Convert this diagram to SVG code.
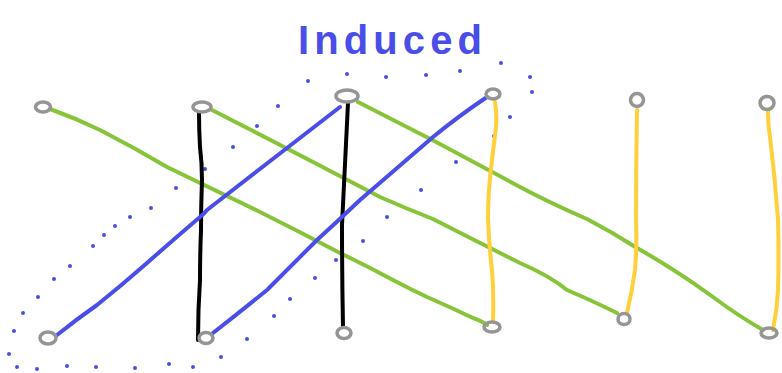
<svg xmlns="http://www.w3.org/2000/svg" width="782" height="373" viewBox="0 0 782 373">
<style>
.node{fill:none;stroke:#959595;stroke-width:3.5}
.edge{fill:none;stroke-width:4;stroke-linecap:round;stroke-linejoin:round}
.g{stroke:#88c43a}
.k{stroke:#000}
.b{stroke:#4a4de8}
.y{stroke:#fdd03c}
.dot{fill:#4a4de8}
.title{font-family:"Liberation Sans",Arial,sans-serif;font-size:40px;font-weight:bold;fill:#4a4de8}
</style>
<rect width="782" height="373" fill="#fff"/>
<text class="title" x="298" y="54" textLength="184" lengthAdjust="spacing">Induced</text>
<g id="selection">
<circle class="dot" cx="9" cy="354" r="2"/><circle class="dot" cx="14" cy="331" r="2"/><circle class="dot" cx="23" cy="313" r="2"/><circle class="dot" cx="38" cy="297" r="2"/><circle class="dot" cx="54" cy="279" r="2"/><circle class="dot" cx="70" cy="266" r="2"/><circle class="dot" cx="93" cy="246" r="2"/><circle class="dot" cx="104" cy="235" r="2"/><circle class="dot" cx="115" cy="226" r="2"/><circle class="dot" cx="130" cy="217" r="2"/><circle class="dot" cx="151" cy="208" r="2"/><circle class="dot" cx="176" cy="188" r="2"/><circle class="dot" cx="205" cy="169" r="2"/><circle class="dot" cx="233" cy="147" r="2"/><circle class="dot" cx="257" cy="126" r="2"/><circle class="dot" cx="278" cy="106" r="2"/><circle class="dot" cx="308" cy="81" r="2"/><circle class="dot" cx="347" cy="74" r="2"/><circle class="dot" cx="386" cy="77" r="2"/><circle class="dot" cx="426" cy="75" r="2"/><circle class="dot" cx="460" cy="71" r="2"/><circle class="dot" cx="501" cy="63" r="2"/><circle class="dot" cx="530" cy="77" r="2"/><circle class="dot" cx="532" cy="92" r="2"/><circle class="dot" cx="510" cy="117" r="2"/><circle class="dot" cx="494" cy="136" r="2"/><circle class="dot" cx="456" cy="162" r="2"/><circle class="dot" cx="421" cy="190" r="2"/><circle class="dot" cx="387" cy="217" r="2"/><circle class="dot" cx="363" cy="241" r="2"/><circle class="dot" cx="336" cy="260" r="2"/><circle class="dot" cx="315" cy="278" r="2"/><circle class="dot" cx="290" cy="299" r="2"/><circle class="dot" cx="274" cy="316" r="2"/><circle class="dot" cx="247" cy="339" r="2"/><circle class="dot" cx="221" cy="357" r="2"/><circle class="dot" cx="193" cy="367" r="2"/><circle class="dot" cx="169" cy="364" r="2"/><circle class="dot" cx="135" cy="368" r="2"/><circle class="dot" cx="96" cy="367" r="2"/><circle class="dot" cx="67" cy="366" r="2"/><circle class="dot" cx="37" cy="369" r="2"/><circle class="dot" cx="17" cy="367" r="2"/>
</g>
<g id="connectors">
<path class="edge g" d="M50,109 Q75,118 100,130 Q135,148 167,167 Q215,190 260,212 Q300,232 340,253 Q367,266 393,280 Q410,289 427,297 Q450,307 473,318 Q482,321 487,325"/>
<path class="edge g" d="M212,110 Q296,153 380,197 Q405,208 433,219 Q476,241 520,263 Q550,276 567,290 Q595,302 617,313"/>
<path class="edge g" d="M358,102 Q440,143 520,187 Q550,203 587,219 Q612,232 637,248 Q676,270 713,297 Q737,315 763,330"/>
<path class="edge k" d="M199,113 Q199,130 200,147 Q202,163 202,180 Q201,205 201,230 Q200,255 200,280 Q198,310 198,340"/>
<path class="edge k" d="M348,103 Q345,165 342,225 Q342,276 343,327"/>
<path class="edge y" d="M495,102 Q497,114 496,127 Q494,143 492,160 Q488,190 488,219 Q489,245 492,270 Q494,295 493,320"/>
<path class="edge y" d="M637,110 Q636,165 636,219 Q637,245 635,270 Q632,292 627,313"/>
<path class="edge y" d="M768,112 Q768,125 770,137 Q775,178 778,219 Q779,255 778,290 Q777,310 773,330"/>
<path class="edge b" d="M57,335 Q77,319 97,305 Q122,285 147,263 Q173,240 200,217 Q204,214 207,210 Q247,179 287,148 Q313,128 340,107"/>
<path class="edge b" d="M213,333 Q240,312 267,290 Q292,265 317,240 Q339,220 360,200 Q397,168 433,137 Q460,115 487,97"/>
</g>
<g id="n1"><ellipse class="node" cx="43" cy="107" rx="7.5" ry="5"/></g>
<g id="n2"><ellipse class="node" cx="202" cy="107" rx="9" ry="5"/></g>
<g id="n3"><ellipse class="node" cx="347" cy="96" rx="11" ry="6"/></g>
<g id="n4"><ellipse class="node" cx="493" cy="94" rx="7" ry="5"/></g>
<g id="n5"><ellipse class="node" cx="637" cy="100" rx="6.5" ry="6.5"/></g>
<g id="n6"><ellipse class="node" cx="767" cy="103" rx="7" ry="6.5"/></g>
<g id="n7"><ellipse class="node" cx="48" cy="338" rx="8" ry="6"/></g>
<g id="n8"><ellipse class="node" cx="206" cy="338" rx="7" ry="5.5"/></g>
<g id="n9"><ellipse class="node" cx="344" cy="333" rx="7" ry="5.5"/></g>
<g id="n10"><ellipse class="node" cx="492" cy="327" rx="8" ry="5"/></g>
<g id="n11"><ellipse class="node" cx="624" cy="319" rx="6" ry="5.5"/></g>
<g id="n12"><ellipse class="node" cx="769" cy="333" rx="8" ry="5"/></g>
</svg>
